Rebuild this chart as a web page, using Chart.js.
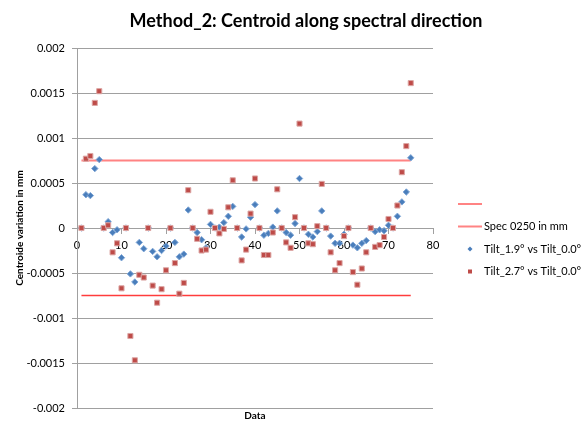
<!DOCTYPE html>
<html>
<head>
<meta charset="utf-8">
<title>Method_2: Centroid along spectral direction</title>
<script src="https://cdn.jsdelivr.net/npm/chart.js@4/dist/chart.umd.min.js"></script>
<style>
  body { margin: 0; background: #fff; }
  #chart { display: block; }
</style>
</head>
<body>
<canvas id="chart" width="587" height="422"></canvas>
<script>
// sample index along the spectral direction
const dataIndex = [
    1, 2, 3, 4, 5, 6, 7, 8, 9, 10, 11, 12, 13, 14, 15, 16, 17, 18, 19, 20,
    21, 22, 23, 24, 25, 26, 27, 28, 29, 30, 31, 32, 33, 34, 35, 36, 37, 38, 39, 40,
    41, 42, 43, 44, 45, 46, 47, 48, 49, 50, 51, 52, 53, 54, 55, 56, 57, 58, 59, 60,
    61, 62, 63, 64, 65, 66, 67, 68, 69, 70, 71, 72, 73, 74, 75
];

// centroid variation in mm, Tilt_1.9° vs Tilt_0.0°
const tilt19 = [
    0, 0.00037, 0.00036, 0.00066, 0.00076, 0, 0.00007, -0.00005, -0.00002, -0.00033,
    0, -0.00051, -0.0006, -0.00016, -0.00023, 0, -0.00026, -0.00032, -0.00025, -0.0002,
    0, -0.00016, -0.00032, -0.00029, 0.0002, 0, -0.00005, -0.00013, -0.00022, 0.00004,
    0, 0.00001, 0.00006, 0.00013, 0.00024, 0, -0.0001, -0.00001, 0.00012, 0.00026,
    0, -0.00008, -0.00006, 0.00001, 0.00019, 0, -0.00005, -0.00008, 0.00005, 0.00055,
    0, -0.00007, -0.0001, -0.00004, 0.00019, 0, -0.00009, -0.00017, -0.00017, -0.00007,
    0, -0.00019, -0.00022, -0.00017, -0.00014, 0, -0.00004, -0.00002, -0.00003, 0.00003,
    0, 0.00013, 0.00029, 0.0004, 0.00078
];

// centroid variation in mm, Tilt_2.7° vs Tilt_0.0°
const tilt27 = [
    0, 0.00077, 0.0008, 0.00139, 0.00152, 0, 0.00003, -0.00027, -0.00017, -0.00067,
    0, -0.0012, -0.00147, -0.00052, -0.00055, 0, -0.00064, -0.00083, -0.00068, -0.00047,
    0, -0.00039, -0.00073, -0.00061, 0.00042, 0, -0.00012, -0.00025, -0.00024, 0.00018,
    0, -0.00006, -0.00001, 0.00023, 0.00053, 0, -0.00036, -0.00024, 0.00016, 0.00055,
    0, -0.0003, -0.0003, -0.00005, 0.00043, 0, -0.00016, -0.00022, 0.00012, 0.00116,
    0, -0.00017, -0.00018, 0.00002, 0.00049, 0, -0.00027, -0.00047, -0.00039, -0.00009,
    0, -0.00049, -0.00063, -0.00045, -0.00027, 0, -0.00021, -0.00019, -0.0001, 0.0001,
    0, 0.00025, 0.00062, 0.00091, 0.00161
];

// spec limits (0250), drawn from first to last sample
const specX = [1, 75];
const specUpper = [0.00075, 0.00075];
const specLower = [-0.00075, -0.00075];

const yTicks = [0.002, 0.0015, 0.001, 0.0005, 0, -0.0005, -0.001, -0.0015, -0.002];
const xTicks = [0, 10, 20, 30, 40, 50, 60, 70, 80];

const FONT = "Lato, 'Liberation Sans', sans-serif";
const GRID = '#a0a0a0';
const BLUE = '#4a7ebb';
const RED = '#be4b48';

const toPoints = (xs, ys) => xs.map((x, i) => ({ x: x, y: ys[i] }));

const legendItems = [
    { type: 'line', color: 'rgba(255, 90, 90, 0.75)', text: '' },
    { type: 'line', color: 'rgba(255, 90, 90, 0.75)', text: 'Spec 0250 in mm' },
    { type: 'diamond', color: BLUE, text: 'Tilt_1.9° vs Tilt_0.0°' },
    { type: 'square', color: RED, text: 'Tilt_2.7° vs Tilt_0.0°' }
];

// title and side legend drawn straight onto the canvas
const decorations = {
    id: 'decorations',
    afterDraw(chart) {
        const ctx = chart.ctx;
        ctx.save();
        ctx.fillStyle = '#000';
        ctx.textAlign = 'center';
        ctx.textBaseline = 'middle';
        ctx.font = "bold 18px " + FONT;
        ctx.fillText('Method_2: Centroid along spectral direction', 306, 21);

        ctx.font = "11px " + FONT;
        ctx.textAlign = 'left';
        legendItems.forEach((item, i) => {
            const y = 204 + i * 22.5;
            if (item.type === 'line') {
                ctx.strokeStyle = item.color;
                ctx.lineWidth = 2;
                ctx.beginPath();
                ctx.moveTo(458, y);
                ctx.lineTo(482, y);
                ctx.stroke();
            } else if (item.type === 'diamond') {
                ctx.fillStyle = item.color;
                ctx.beginPath();
                ctx.moveTo(470, y - 2.5);
                ctx.lineTo(472.5, y);
                ctx.lineTo(470, y + 2.5);
                ctx.lineTo(467.5, y);
                ctx.closePath();
                ctx.fill();
            } else {
                ctx.fillStyle = item.color;
                ctx.fillRect(468, y - 2, 4, 4);
            }
            ctx.fillStyle = '#000';
            ctx.fillText(item.text, 484, y);
        });
        ctx.restore();
    }
};

new Chart(document.getElementById('chart'), {
    type: 'scatter',
    data: {
        datasets: [
            {
                label: '',
                type: 'line',
                data: toPoints(specX, specUpper),
                borderColor: 'rgba(255, 90, 90, 0.75)',
                borderWidth: 2,
                pointRadius: 0,
                order: 3
            },
            {
                label: 'Spec 0250 in mm',
                type: 'line',
                data: toPoints(specX, specLower),
                borderColor: '#ff3c3c',
                borderWidth: 1.5,
                pointRadius: 0,
                order: 3
            },
            {
                label: 'Tilt_1.9° vs Tilt_0.0°',
                data: toPoints(dataIndex, tilt19),
                pointStyle: 'rectRot',
                pointRadius: 3.2,
                backgroundColor: BLUE,
                borderColor: '#7fa6d6',
                borderWidth: 1,
                order: 2
            },
            {
                label: 'Tilt_2.7° vs Tilt_0.0°',
                data: toPoints(dataIndex, tilt27),
                pointStyle: 'rect',
                pointRadius: 3.6,
                backgroundColor: RED,
                borderColor: '#dca6a4',
                borderWidth: 1,
                order: 1
            }
        ]
    },
    options: {
        responsive: false,
        animation: false,
        devicePixelRatio: 1,
        layout: { padding: { top: 48, right: 154, left: 0, bottom: 0 } },
        plugins: {
            legend: { display: false },
            title: { display: false },
            tooltip: { enabled: false }
        },
        scales: {
            x: {
                type: 'linear',
                position: 'bottom',
                min: 0,
                max: 80,
                ticks: { display: false },
                grid: { display: false },
                border: { display: false },
                title: {
                    display: true,
                    text: 'Data',
                    color: '#000',
                    font: { family: FONT, size: 10, weight: 'bold' },
                    padding: { top: 0, bottom: 0 }
                },
                afterFit: scale => { scale.height = 14; }
            },
            x2: {
                type: 'linear',
                axis: 'x',
                position: { y: 0 },
                min: 0,
                max: 80,
                afterBuildTicks: scale => { scale.ticks = xTicks.map(v => ({ value: v })); },
                ticks: {
                    color: '#000',
                    padding: 6,
                    maxRotation: 0,
                    font: { family: FONT, size: 11 }
                },
                grid: { drawOnChartArea: false, drawTicks: true, tickLength: 5, color: GRID },
                border: { display: true, color: GRID }
            },
            y: {
                type: 'linear',
                min: -0.002,
                max: 0.002,
                afterBuildTicks: scale => { scale.ticks = yTicks.map(v => ({ value: v })); },
                ticks: {
                    color: '#000',
                    padding: 7,
                    font: { family: FONT, size: 11 },
                    callback: value => String(Number(value.toFixed(4)))
                },
                grid: { color: GRID, tickLength: 5 },
                border: { display: true, color: GRID },
                title: {
                    display: true,
                    text: 'Centroide variation in mm',
                    color: '#000',
                    font: { family: FONT, size: 10, weight: 'bold' },
                    padding: { top: 14, bottom: 0 }
                },
                afterFit: scale => { scale.width = 77; }
            }
        }
    },
    plugins: [decorations]
});
</script>
</body>
</html>
